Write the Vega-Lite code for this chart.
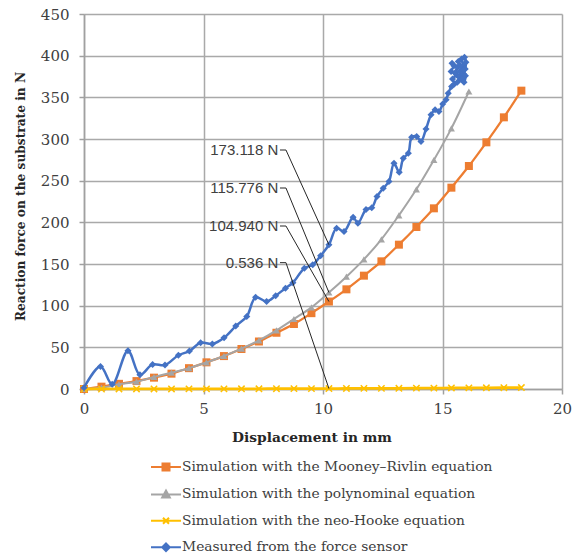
{
  "$schema": "https://vega.github.io/schema/vega-lite/v6.json",
  "width": 478,
  "height": 375,
  "autosize": {"type": "none"},
  "padding": {"left": 84, "top": 14, "right": 21, "bottom": 167},
  "background": "white",
  "config": {
    "view": {"stroke": null},
    "axis": {
      "gridColor": "#a9a9a9",
      "gridWidth": 1.5,
      "domainColor": "#a0a0a0",
      "domainWidth": 1.5,
      "tickColor": "#a0a0a0",
      "tickWidth": 1.5,
      "tickSize": 5,
      "labelFlush": false,
      "labelFont": "DejaVu Serif",
      "labelFontSize": 15,
      "labelColor": "#404040",
      "titleFont": "DejaVu Serif",
      "titleFontWeight": "bold",
      "titleColor": "#262626"
    },
    "legend": {
      "direction": "vertical",
      "symbolSize": 400,
      "symbolStrokeWidth": 2,
      "symbolOpacity": 1,
      "labelFont": "DejaVu Serif",
      "labelFontSize": 13.8,
      "labelColor": "#404040",
      "labelOffset": 5,
      "labelLimit": 420,
      "rowPadding": 8.4
    }
  },
  "datasets": {
    "labels": [
      {"label": "173.118 N", "y": 173.118, "ly": 286.8},
      {"label": "115.776 N", "y": 115.776, "ly": 241.2},
      {"label": "104.940 N", "y": 104.94, "ly": 195.6},
      {"label": "0.536 N", "y": 0.536, "ly": 151.6}
    ]
  },
  "data": {
    "values": [
      {"series": "Simulation with the Mooney–Rivlin equation", "x": 0, "y": 0},
      {"series": "Simulation with the Mooney–Rivlin equation", "x": 0.732, "y": 2.8},
      {"series": "Simulation with the Mooney–Rivlin equation", "x": 1.464, "y": 6.2},
      {"series": "Simulation with the Mooney–Rivlin equation", "x": 2.196, "y": 9.5},
      {"series": "Simulation with the Mooney–Rivlin equation", "x": 2.928, "y": 13.6},
      {"series": "Simulation with the Mooney–Rivlin equation", "x": 3.66, "y": 18.4},
      {"series": "Simulation with the Mooney–Rivlin equation", "x": 4.392, "y": 25},
      {"series": "Simulation with the Mooney–Rivlin equation", "x": 5.124, "y": 32},
      {"series": "Simulation with the Mooney–Rivlin equation", "x": 5.856, "y": 39.5},
      {"series": "Simulation with the Mooney–Rivlin equation", "x": 6.588, "y": 48},
      {"series": "Simulation with the Mooney–Rivlin equation", "x": 7.32, "y": 57},
      {"series": "Simulation with the Mooney–Rivlin equation", "x": 8.052, "y": 67.5},
      {"series": "Simulation with the Mooney–Rivlin equation", "x": 8.784, "y": 78},
      {"series": "Simulation with the Mooney–Rivlin equation", "x": 9.516, "y": 91},
      {"series": "Simulation with the Mooney–Rivlin equation", "x": 10.248, "y": 104.94},
      {"series": "Simulation with the Mooney–Rivlin equation", "x": 10.98, "y": 119.6},
      {"series": "Simulation with the Mooney–Rivlin equation", "x": 11.712, "y": 136},
      {"series": "Simulation with the Mooney–Rivlin equation", "x": 12.444, "y": 153.2},
      {"series": "Simulation with the Mooney–Rivlin equation", "x": 13.176, "y": 173.2},
      {"series": "Simulation with the Mooney–Rivlin equation", "x": 13.908, "y": 194.4},
      {"series": "Simulation with the Mooney–Rivlin equation", "x": 14.64, "y": 216.8},
      {"series": "Simulation with the Mooney–Rivlin equation", "x": 15.372, "y": 241.6},
      {"series": "Simulation with the Mooney–Rivlin equation", "x": 16.104, "y": 267.6},
      {"series": "Simulation with the Mooney–Rivlin equation", "x": 16.836, "y": 296},
      {"series": "Simulation with the Mooney–Rivlin equation", "x": 17.568, "y": 326},
      {"series": "Simulation with the Mooney–Rivlin equation", "x": 18.3, "y": 358},

      {"series": "Simulation with the polynominal equation", "x": 0, "y": 0},
      {"series": "Simulation with the polynominal equation", "x": 0.732, "y": 1.6},
      {"series": "Simulation with the polynominal equation", "x": 1.464, "y": 5.6},
      {"series": "Simulation with the polynominal equation", "x": 2.196, "y": 8.8},
      {"series": "Simulation with the polynominal equation", "x": 2.928, "y": 14.4},
      {"series": "Simulation with the polynominal equation", "x": 3.66, "y": 19.6},
      {"series": "Simulation with the polynominal equation", "x": 4.392, "y": 25},
      {"series": "Simulation with the polynominal equation", "x": 5.124, "y": 32},
      {"series": "Simulation with the polynominal equation", "x": 5.856, "y": 39.6},
      {"series": "Simulation with the polynominal equation", "x": 6.588, "y": 48.4},
      {"series": "Simulation with the polynominal equation", "x": 7.32, "y": 58.4},
      {"series": "Simulation with the polynominal equation", "x": 8.052, "y": 70.4},
      {"series": "Simulation with the polynominal equation", "x": 8.784, "y": 84},
      {"series": "Simulation with the polynominal equation", "x": 9.516, "y": 98},
      {"series": "Simulation with the polynominal equation", "x": 10.248, "y": 115.776},
      {"series": "Simulation with the polynominal equation", "x": 10.98, "y": 134.8},
      {"series": "Simulation with the polynominal equation", "x": 11.712, "y": 155.6},
      {"series": "Simulation with the polynominal equation", "x": 12.444, "y": 179.6},
      {"series": "Simulation with the polynominal equation", "x": 13.176, "y": 208.4},
      {"series": "Simulation with the polynominal equation", "x": 13.908, "y": 239.6},
      {"series": "Simulation with the polynominal equation", "x": 14.64, "y": 274.8},
      {"series": "Simulation with the polynominal equation", "x": 15.372, "y": 312.8},
      {"series": "Simulation with the polynominal equation", "x": 16.104, "y": 357},

      {"series": "Simulation with the neo-Hooke equation", "x": 0, "y": 0},
      {"series": "Simulation with the neo-Hooke equation", "x": 0.732, "y": 0.003},
      {"series": "Simulation with the neo-Hooke equation", "x": 1.464, "y": 0.011},
      {"series": "Simulation with the neo-Hooke equation", "x": 2.196, "y": 0.025},
      {"series": "Simulation with the neo-Hooke equation", "x": 2.928, "y": 0.044},
      {"series": "Simulation with the neo-Hooke equation", "x": 3.66, "y": 0.069},
      {"series": "Simulation with the neo-Hooke equation", "x": 4.392, "y": 0.099},
      {"series": "Simulation with the neo-Hooke equation", "x": 5.124, "y": 0.135},
      {"series": "Simulation with the neo-Hooke equation", "x": 5.856, "y": 0.176},
      {"series": "Simulation with the neo-Hooke equation", "x": 6.588, "y": 0.223},
      {"series": "Simulation with the neo-Hooke equation", "x": 7.32, "y": 0.275},
      {"series": "Simulation with the neo-Hooke equation", "x": 8.052, "y": 0.333},
      {"series": "Simulation with the neo-Hooke equation", "x": 8.784, "y": 0.396},
      {"series": "Simulation with the neo-Hooke equation", "x": 9.516, "y": 0.465},
      {"series": "Simulation with the neo-Hooke equation", "x": 10.248, "y": 0.536},
      {"series": "Simulation with the neo-Hooke equation", "x": 10.98, "y": 0.62},
      {"series": "Simulation with the neo-Hooke equation", "x": 11.712, "y": 0.7},
      {"series": "Simulation with the neo-Hooke equation", "x": 12.444, "y": 0.79},
      {"series": "Simulation with the neo-Hooke equation", "x": 13.176, "y": 0.89},
      {"series": "Simulation with the neo-Hooke equation", "x": 13.908, "y": 0.99},
      {"series": "Simulation with the neo-Hooke equation", "x": 14.64, "y": 1.1},
      {"series": "Simulation with the neo-Hooke equation", "x": 15.372, "y": 1.21},
      {"series": "Simulation with the neo-Hooke equation", "x": 16.104, "y": 1.33},
      {"series": "Simulation with the neo-Hooke equation", "x": 16.836, "y": 1.45},
      {"series": "Simulation with the neo-Hooke equation", "x": 17.568, "y": 1.58},
      {"series": "Simulation with the neo-Hooke equation", "x": 18.3, "y": 1.72},

      {"series": "Measured from the force sensor", "x": 0, "y": 1.5},
      {"series": "Measured from the force sensor", "x": 0.69, "y": 27},
      {"series": "Measured from the force sensor", "x": 1.18, "y": 5.6},
      {"series": "Measured from the force sensor", "x": 1.84, "y": 46},
      {"series": "Measured from the force sensor", "x": 2.34, "y": 17},
      {"series": "Measured from the force sensor", "x": 2.87, "y": 29.5},
      {"series": "Measured from the force sensor", "x": 3.39, "y": 28.8},
      {"series": "Measured from the force sensor", "x": 3.95, "y": 40.5},
      {"series": "Measured from the force sensor", "x": 4.41, "y": 45.5},
      {"series": "Measured from the force sensor", "x": 4.88, "y": 55.5},
      {"series": "Measured from the force sensor", "x": 5.37, "y": 54},
      {"series": "Measured from the force sensor", "x": 5.86, "y": 61.5},
      {"series": "Measured from the force sensor", "x": 6.35, "y": 75.5},
      {"series": "Measured from the force sensor", "x": 6.81, "y": 87},
      {"series": "Measured from the force sensor", "x": 7.18, "y": 110},
      {"series": "Measured from the force sensor", "x": 7.64, "y": 105},
      {"series": "Measured from the force sensor", "x": 8.02, "y": 112},
      {"series": "Measured from the force sensor", "x": 8.43, "y": 121},
      {"series": "Measured from the force sensor", "x": 8.74, "y": 127.5},
      {"series": "Measured from the force sensor", "x": 9.22, "y": 145},
      {"series": "Measured from the force sensor", "x": 9.57, "y": 149},
      {"series": "Measured from the force sensor", "x": 9.9, "y": 160},
      {"series": "Measured from the force sensor", "x": 10.248, "y": 173.118},
      {"series": "Measured from the force sensor", "x": 10.57, "y": 193},
      {"series": "Measured from the force sensor", "x": 10.88, "y": 189},
      {"series": "Measured from the force sensor", "x": 11.26, "y": 206},
      {"series": "Measured from the force sensor", "x": 11.46, "y": 199},
      {"series": "Measured from the force sensor", "x": 11.8, "y": 215.5},
      {"series": "Measured from the force sensor", "x": 12.04, "y": 217.5},
      {"series": "Measured from the force sensor", "x": 12.26, "y": 231},
      {"series": "Measured from the force sensor", "x": 12.52, "y": 241},
      {"series": "Measured from the force sensor", "x": 12.76, "y": 249},
      {"series": "Measured from the force sensor", "x": 12.97, "y": 271},
      {"series": "Measured from the force sensor", "x": 13.19, "y": 260},
      {"series": "Measured from the force sensor", "x": 13.36, "y": 277},
      {"series": "Measured from the force sensor", "x": 13.57, "y": 283},
      {"series": "Measured from the force sensor", "x": 13.71, "y": 302},
      {"series": "Measured from the force sensor", "x": 13.92, "y": 303},
      {"series": "Measured from the force sensor", "x": 14.1, "y": 297},
      {"series": "Measured from the force sensor", "x": 14.31, "y": 312},
      {"series": "Measured from the force sensor", "x": 14.52, "y": 329},
      {"series": "Measured from the force sensor", "x": 14.69, "y": 335},
      {"series": "Measured from the force sensor", "x": 14.85, "y": 333},
      {"series": "Measured from the force sensor", "x": 15.01, "y": 342},
      {"series": "Measured from the force sensor", "x": 15.15, "y": 347},
      {"series": "Measured from the force sensor", "x": 15.24, "y": 355},
      {"series": "Measured from the force sensor", "x": 15.38, "y": 363},
      {"series": "Measured from the force sensor", "x": 15.5, "y": 366},
      {"series": "Measured from the force sensor", "x": 15.42, "y": 372},
      {"series": "Measured from the force sensor", "x": 15.58, "y": 377},
      {"series": "Measured from the force sensor", "x": 15.36, "y": 381},
      {"series": "Measured from the force sensor", "x": 15.48, "y": 388},
      {"series": "Measured from the force sensor", "x": 15.4, "y": 391},
      {"series": "Measured from the force sensor", "x": 15.62, "y": 386},
      {"series": "Measured from the force sensor", "x": 15.55, "y": 380},
      {"series": "Measured from the force sensor", "x": 15.7, "y": 374},
      {"series": "Measured from the force sensor", "x": 15.62, "y": 368},
      {"series": "Measured from the force sensor", "x": 15.78, "y": 372},
      {"series": "Measured from the force sensor", "x": 15.72, "y": 381},
      {"series": "Measured from the force sensor", "x": 15.86, "y": 388},
      {"series": "Measured from the force sensor", "x": 15.8, "y": 396},
      {"series": "Measured from the force sensor", "x": 15.92, "y": 398},
      {"series": "Measured from the force sensor", "x": 15.98, "y": 392},
      {"series": "Measured from the force sensor", "x": 15.95, "y": 384},
      {"series": "Measured from the force sensor", "x": 15.88, "y": 378},
      {"series": "Measured from the force sensor", "x": 15.82, "y": 372},
      {"series": "Measured from the force sensor", "x": 15.9, "y": 368},
      {"series": "Measured from the force sensor", "x": 15.96, "y": 376},
      {"series": "Measured from the force sensor", "x": 15.86, "y": 383},
      {"series": "Measured from the force sensor", "x": 15.74, "y": 388},
      {"series": "Measured from the force sensor", "x": 15.66, "y": 393}
    ]
  },
  "layer": [
    {
      "transform": [{"filter": {"field": "series", "equal": "Simulation with the Mooney–Rivlin equation"}}],
      "mark": {"type": "line", "interpolate": "catmull-rom", "strokeWidth": 2.25, "color": "#ED7D31",
               "point": {"shape": "square", "size": 64, "filled": true, "color": "#ED7D31"}},
      "encoding": {
        "x": {"field": "x", "type": "quantitative", "title": "Displacement in mm",
              "scale": {"domain": [0, 20], "nice": false},
              "axis": {"values": [0, 5, 10, 15, 20], "grid": true, "labelPadding": 7, "titleFontSize": 13.8,
                       "titleX": 227.5, "titleY": 48, "titleBaseline": "middle"}},
        "y": {"field": "y", "type": "quantitative", "title": "Reaction force on the substrate in N",
              "scale": {"domain": [0, 450], "nice": false},
              "axis": {"values": [0, 50, 100, 150, 200, 250, 300, 350, 400, 450], "grid": true, "labelPadding": 10, "titleFontSize": 12.2,
                       "titleX": -64, "titleY": 182, "titleBaseline": "middle"}}
      }
    },
    {
      "transform": [{"filter": {"field": "series", "equal": "Simulation with the polynominal equation"}}],
      "mark": {"type": "line", "interpolate": "catmull-rom", "strokeWidth": 2, "color": "#A5A5A5",
               "point": {"shape": "triangle-up", "size": 50, "filled": true, "color": "#A5A5A5"}},
      "encoding": {
        "x": {"field": "x", "type": "quantitative"},
        "y": {"field": "y", "type": "quantitative"}
      }
    },
    {
      "transform": [{"filter": {"field": "series", "equal": "Simulation with the neo-Hooke equation"}}],
      "mark": {"type": "line", "interpolate": "catmull-rom", "strokeWidth": 2.75, "color": "#FFC000",
               "point": {"shape": "M-1,-1L1,1M-1,1L1,-1", "size": 40, "filled": false, "strokeWidth": 1.5, "color": "#FFC000"}},
      "encoding": {
        "x": {"field": "x", "type": "quantitative"},
        "y": {"field": "y", "type": "quantitative"}
      }
    },
    {
      "transform": [{"filter": {"field": "series", "equal": "Measured from the force sensor"}}],
      "mark": {"type": "line", "interpolate": "catmull-rom", "strokeWidth": 2.5, "color": "#4472C4",
               "point": {"shape": "diamond", "size": 50, "filled": true, "color": "#4472C4"}},
      "encoding": {
        "x": {"field": "x", "type": "quantitative"},
        "y": {"field": "y", "type": "quantitative"},
        "order": {"value": null}
      }
    },
    {
      "mark": {"type": "point", "opacity": 0},
      "encoding": {
        "x": {"field": "x", "type": "quantitative"},
        "y": {"field": "y", "type": "quantitative"},
        "fill": {"field": "series", "type": "nominal",
                 "scale": {"domain": ["Simulation with the Mooney–Rivlin equation", "Simulation with the polynominal equation", "Simulation with the neo-Hooke equation", "Measured from the force sensor"],
                           "range": ["#ED7D31", "#A5A5A5", "#FFC000", "#4472C4"]},
                 "legend": {"title": null, "orient": "none", "legendX": 71, "legendY": 442}},
        "stroke": {"field": "series", "type": "nominal",
                   "scale": {"domain": ["Simulation with the Mooney–Rivlin equation", "Simulation with the polynominal equation", "Simulation with the neo-Hooke equation", "Measured from the force sensor"],
                             "range": ["#ED7D31", "#A5A5A5", "#FFC000", "#4472C4"]},
                   "legend": {"title": null, "orient": "none", "legendX": 71, "legendY": 442}},
        "shape": {"field": "series", "type": "nominal",
                  "scale": {"domain": ["Simulation with the Mooney–Rivlin equation", "Simulation with the polynominal equation", "Simulation with the neo-Hooke equation", "Measured from the force sensor"],
                            "range": ["M-1.5,0H1.5M-0.35,-0.35H0.35V0.35H-0.35Z",
                                      "M-1.5,0H1.5M-0.38,0.3L0,-0.38L0.38,0.3Z",
                                      "M-1.5,0H1.5M-0.3,-0.3L0.3,0.3M-0.3,0.3L0.3,-0.3",
                                      "M-1.5,0H1.5M0,-0.38L0.38,0L0,0.38L-0.38,0Z"]},
                  "legend": {"title": null, "orient": "none", "legendX": 71, "legendY": 442}}
      }
    },
    {
      "data": {"name": "labels"},
      "mark": {"type": "rule", "color": "#262626", "strokeWidth": 1},
      "encoding": {
        "x": {"datum": 8.45, "type": "quantitative"},
        "x2": {"datum": 10.248},
        "y": {"field": "ly", "type": "quantitative"},
        "y2": {"field": "y"}
      }
    },
    {
      "data": {"name": "labels"},
      "mark": {"type": "rule", "color": "#262626", "strokeWidth": 1},
      "encoding": {
        "x": {"datum": 8.2, "type": "quantitative"},
        "x2": {"datum": 8.45},
        "y": {"field": "ly", "type": "quantitative"}
      }
    },
    {
      "data": {"name": "labels"},
      "mark": {"type": "text", "align": "right", "baseline": "middle", "font": "Liberation Sans", "fontSize": 15, "color": "#404040"},
      "encoding": {
        "x": {"datum": 8.13, "type": "quantitative"},
        "y": {"field": "ly", "type": "quantitative"},
        "text": {"field": "label", "type": "nominal"}
      }
    }
  ]
}
